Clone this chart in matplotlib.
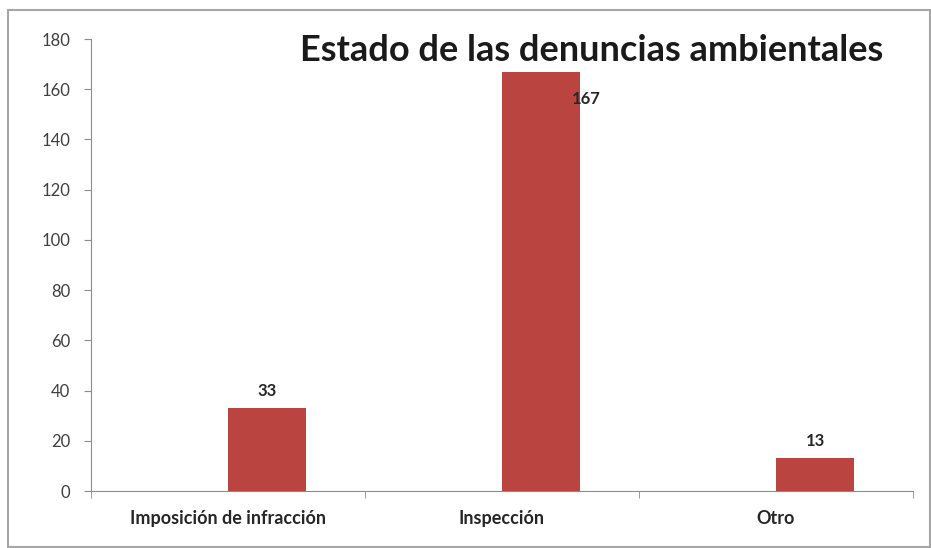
import matplotlib
matplotlib.use("Agg")
import matplotlib.pyplot as plt
import numpy as np
from matplotlib.patches import Rectangle

# data
categories = ["Imposición de infracción", "Inspección", "Otro"]
values = [33, 167, 13]
title = "Estado de las denuncias ambientales"

bar_color = "#BA4540"
axis_color = "#8C8C8C"
text_color = "#262626"

plt.rcParams["font.family"] = ["Lato", "DejaVu Sans"]

W, H = 931, 548
fig = plt.figure(figsize=(W / 100, H / 100), dpi=100)
fig.patch.set_facecolor("white")

# outer chart frame
fig.patches.append(Rectangle((8 / W, 1 / H), (W - 9) / W, (H - 11) / H,
                             transform=fig.transFigure, fill=False,
                             edgecolor="#A6A6A6", linewidth=1.5))

ax = fig.add_axes([91 / W, (H - 491) / H, (913 - 91) / W, (491 - 39) / H])

x = np.arange(len(categories))
width = 0.285
# Excel-style clustered layout: the visible series sits in the right half of each slot
bars = ax.bar(x + width / 2, values, width=width, color=bar_color, zorder=3)

ax.set_xlim(-0.5, len(categories) - 0.5)
ax.set_ylim(0, 180)
ax.set_yticks(np.arange(0, 181, 20))

ax.set_xticks(x)
ax.set_xticklabels(categories, fontweight="bold", fontsize=13, color=text_color)
ax.set_xticks(np.arange(-0.5, len(categories), 1), minor=True)
ax.tick_params(axis="x", which="major", length=0, pad=14)
ax.tick_params(axis="x", which="minor", length=5, color=axis_color, direction="out")
ax.tick_params(axis="y", length=5, color=axis_color, labelsize=12,
               labelcolor="#404040", pad=10)

for side in ["top", "right"]:
    ax.spines[side].set_visible(False)
for side in ["left", "bottom"]:
    ax.spines[side].set_color(axis_color)

# data labels
for b, v in zip(bars, values):
    cx = b.get_x() + b.get_width() / 2
    if v > 150:
        ax.text(b.get_x() + b.get_width() - 0.03, v - 11, str(v), ha="left",
                va="center", fontweight="bold", fontsize=12, color=text_color)
    else:
        ax.text(cx, v + 7, str(v), ha="center", va="center",
                fontweight="bold", fontsize=12, color=text_color)

fig.text(592 / W, 1 - 50 / H, title, ha="center", va="center",
         fontsize=26, fontweight="bold", color="#1A1A1A")

fig.savefig("out.png", dpi=100)
